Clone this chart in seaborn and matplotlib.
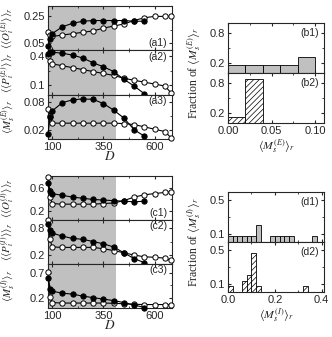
import matplotlib
matplotlib.use("Agg")
import matplotlib.pyplot as plt
import seaborn as sns
from matplotlib.ticker import FixedLocator

# D values of the filled (solid) and open series
D_f = [80, 90, 100, 150, 200, 250, 300, 350, 400, 450, 500, 550]
D_o = [80, 90, 100, 150, 200, 250, 300, 350, 400, 450, 500, 550, 600, 650, 680]

# (a) panels, E layer
a1_f = [0.03, 0.08, 0.12, 0.17, 0.195, 0.21, 0.215, 0.215, 0.215, 0.215, 0.21, 0.21]
a1_o = [0.13, 0.11, 0.10, 0.11, 0.12, 0.13, 0.14, 0.16, 0.175, 0.19, 0.215, 0.235, 0.245, 0.245, 0.245]
a2_f = [0.42, 0.44, 0.44, 0.43, 0.41, 0.38, 0.33, 0.29, 0.24, 0.16, 0.09, 0.01]
a2_o = [0.40, 0.35, 0.32, 0.30, 0.28, 0.26, 0.24, 0.22, 0.20, 0.17, 0.15, 0.13, 0.11, 0.09, 0.02]
a3_f = [0.01, 0.048, 0.06, 0.078, 0.084, 0.086, 0.085, 0.076, 0.062, 0.045, 0.02, 0.006]
a3_o = [0.065, 0.05, 0.034, 0.034, 0.034, 0.034, 0.034, 0.034, 0.034, 0.033, 0.031, 0.026, 0.021, 0.016, 0.003]

# (c) panels, I layer
c1_f = [0.68, 0.55, 0.50, 0.47, 0.44, 0.42, 0.40, 0.39, 0.38, 0.37, 0.36, 0.37]
c1_o = [0.78, 0.45, 0.33, 0.32, 0.32, 0.32, 0.32, 0.33, 0.34, 0.38, 0.44, 0.48, 0.50, 0.52, 0.53]
c2_f = [0.90, 0.75, 0.69, 0.62, 0.57, 0.55, 0.50, 0.45, 0.38, 0.25, 0.12, 0.03]
c2_o = [0.98, 0.55, 0.38, 0.37, 0.37, 0.37, 0.37, 0.34, 0.30, 0.25, 0.20, 0.16, 0.15, 0.13, 0.08]
c3_f = [0.60, 0.38, 0.33, 0.29, 0.27, 0.23, 0.20, 0.17, 0.14, 0.10, 0.05, 0.0]
c3_o = [0.72, 0.22, 0.10, 0.09, 0.09, 0.09, 0.09, 0.09, 0.085, 0.075, 0.065, 0.06, 0.06, 0.06, 0.055]

# histograms: bin edges and fractions
b_edges = [0.0, 0.02, 0.04, 0.06, 0.08, 0.10]
b1_frac = [0.17, 0.17, 0.17, 0.17, 0.32]
b2_frac = [0.12, 0.88, 0.0, 0.0, 0.0]
d_edges = [round(0.02 * i, 2) for i in range(20)]
d1_frac = [1/15] * 6 + [3/15, 0, 0] + [1/15] * 5 + [0, 0, 0, 0, 1/15]
d2_frac = [1/15, 0, 0, 2/15, 3/15, 7/15, 1/15] + [0] * 9 + [1/15, 0, 0]

shade_end = 410

sns.set_style("ticks")
plt.rcParams.update({
    "font.family": ["Liberation Sans", "DejaVu Sans"],
    "mathtext.fontset": "stix",
    "font.size": 8,
    "xtick.direction": "in", "ytick.direction": "in",
    "xtick.top": True, "ytick.right": True,
    "xtick.major.size": 2.5, "ytick.major.size": 2.5,
    "xtick.minor.size": 1.5, "ytick.minor.size": 1.5,
    "xtick.major.pad": 2, "ytick.major.pad": 2,
    "axes.linewidth": 0.8,
    "hatch.linewidth": 0.5,
})

W, H = 332, 337
fig = plt.figure(figsize=(W / 100, H / 100), dpi=100)


def add_ax(x0, y0, x1, y1):
    return fig.add_axes([x0 / W, 1 - y1 / H, (x1 - x0) / W, (y1 - y0) / H])


def line_panel(ax, yf, yo, ylim, yt, ymin, ylab, tag, tag_top, bottom):
    ax.axvspan(70, shade_end, color="#c0c0c0", lw=0, zorder=0)
    sns.lineplot(x=D_o, y=yo, ax=ax, color="k", lw=0.8, marker="o", ms=3.8,
                 mfc="white", mec="k", mew=0.7, clip_on=False, zorder=3)
    sns.lineplot(x=D_f, y=yf, ax=ax, color="k", lw=0.8, marker="o", ms=3.8,
                 mfc="k", mec="k", mew=0.7, clip_on=False, zorder=4)
    ax.set_xlim(80, 685)
    ax.set_ylim(*ylim)
    ax.set_yticks(yt)
    ax.yaxis.set_minor_locator(FixedLocator([ymin]))
    ax.set_xticks([100, 350, 600])
    ax.xaxis.set_minor_locator(FixedLocator([225, 475]))
    ax.set_yticklabels([f"{v:g}" if v >= 0.1 or v == 0.05 else f"{v:.2f}" for v in yt])
    ax.set_ylabel(ylab, fontsize=7.8)
    ax.yaxis.set_label_coords(-0.25, 0.5)
    if bottom:
        ax.set_xlabel(r"$D$", fontsize=9.5, labelpad=-1)
    else:
        ax.tick_params(axis="x", labelbottom=False)
    ax.text(0.96, 0.86 if tag_top else 0.16, tag, transform=ax.transAxes,
            ha="right", va="center", fontsize=7.5)


def hist_panel(ax, edges, frac, xlim, xt, xmin, ylim, yt, ymin, tag, hatched, bottom, xlab):
    centers = [(edges[i] + edges[i + 1]) / 2 for i in range(len(frac))]
    if hatched:
        sns.histplot(x=centers, weights=frac, bins=edges, ax=ax, color="white",
                     edgecolor="k", linewidth=0.6, alpha=1, hatch="//////")
    else:
        sns.histplot(x=centers, weights=frac, bins=edges, ax=ax, color="#c0c0c0",
                     edgecolor="k", linewidth=0.6, alpha=1)
    ax.set_xlim(*xlim)
    ax.set_ylim(*ylim)
    ax.set_xticks(xt)
    ax.xaxis.set_minor_locator(FixedLocator(xmin))
    ax.set_yticks(yt)
    ax.yaxis.set_minor_locator(FixedLocator(ymin))
    ax.set_ylabel("")
    if bottom:
        ax.set_xlabel(xlab, fontsize=8.5, labelpad=1)
    else:
        ax.set_xlabel("")
        ax.tick_params(axis="x", labelbottom=False)
    ax.text(0.95, 0.8, tag, transform=ax.transAxes, ha="right", va="center", fontsize=7.5)


# left column, top group
ax = add_ax(48, 6, 172, 50.3)
line_panel(ax, a1_f, a1_o, (0, 0.32), [0.05, 0.25], 0.15,
           r"$\langle\langle O_i^{(E)}\rangle\rangle_r$", "(a1)", False, False)
ax = add_ax(48, 50.3, 172, 94.7)
line_panel(ax, a2_f, a2_o, (0, 0.46), [0.1, 0.4], 0.25,
           r"$\langle\langle P_i^{(E)}\rangle\rangle_r$", "(a2)", True, False)
ax = add_ax(48, 94.7, 172, 139)
line_panel(ax, a3_f, a3_o, (0, 0.095), [0.02, 0.08], 0.05,
           r"$\langle M_s^{(E)}\rangle_r$", "(a3)", True, True)

# left column, bottom group
ax = add_ax(48, 176, 172, 220)
line_panel(ax, c1_f, c1_o, (0.05, 0.8), [0.2, 0.6], 0.4,
           r"$\langle\langle O_i^{(I)}\rangle\rangle_r$", "(c1)", False, False)
ax = add_ax(48, 220, 172, 264)
line_panel(ax, c2_f, c2_o, (0, 0.98), [0.2, 0.8], 0.5,
           r"$\langle\langle P_i^{(I)}\rangle\rangle_r$", "(c2)", True, False)
ax = add_ax(48, 264, 172, 308)
line_panel(ax, c3_f, c3_o, (-0.01, 0.88), [0.2, 0.7], 0.45,
           r"$\langle M_s^{(I)}\rangle_r$", "(c3)", True, True)

# right column histograms
mE = r"$\langle M_s^{(E)}\rangle_r$"
mI = r"$\langle M_s^{(I)}\rangle_r$"
ax = add_ax(228, 23, 324, 73)
hist_panel(ax, b_edges, b1_frac, (0, 0.11), [0.0, 0.05, 0.10], [0.025, 0.075],
           (0, 1.0), [0.2, 0.8], [0.5], "(b1)", False, False, "")
ax = add_ax(228, 73, 324, 123)
hist_panel(ax, b_edges, b2_frac, (0, 0.11), [0.0, 0.05, 0.10], [0.025, 0.075],
           (0, 1.0), [0.2, 0.8], [0.5], "(b2)", True, True, mE)
ax.set_xticklabels(["0.00", "0.05", "0.10"])
ax = add_ax(228, 192, 324, 242)
hist_panel(ax, d_edges, d1_frac, (0, 0.41), [0.0, 0.2, 0.4], [0.1, 0.3],
           (0, 0.6), [0.1, 0.5], [0.3], "(d1)", False, False, "")
ax = add_ax(228, 242, 324, 292)
hist_panel(ax, d_edges, d2_frac, (0, 0.41), [0.0, 0.2, 0.4], [0.1, 0.3],
           (0, 0.6), [0.1, 0.5], [0.3], "(d2)", True, True, mI)

serif = ["Liberation Serif", "DejaVu Serif"]
fig.text(194 / W, 1 - 73 / H, "Fraction of " + mE, rotation=90, ha="center",
         va="center", fontsize=8.5, family=serif)
fig.text(194 / W, 1 - 242 / H, "Fraction of " + mI, rotation=90, ha="center",
         va="center", fontsize=8.5, family=serif)

fig.savefig("out.png", dpi=100)
